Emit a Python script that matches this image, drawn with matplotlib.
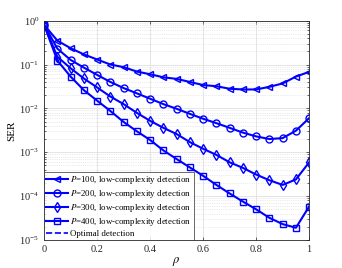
import numpy as np
import matplotlib.pyplot as plt
from matplotlib.ticker import LogLocator, NullFormatter

plt.rcParams['font.family'] = ['Liberation Serif', 'DejaVu Serif']
plt.rcParams['mathtext.fontset'] = 'stix'

rho = np.linspace(0, 1, 21)

ser_p100 = [0.8, 0.35, 0.235, 0.17, 0.13, 0.10, 0.087, 0.069, 0.06, 0.051, 0.047,
            0.040, 0.034, 0.032, 0.028, 0.027, 0.027, 0.031, 0.037, 0.053, 0.068]
ser_p200 = [0.8, 0.23, 0.127, 0.085, 0.058, 0.040, 0.029, 0.022, 0.0166, 0.0125, 0.0098,
            0.0075, 0.0058, 0.0046, 0.0036, 0.0028, 0.0023, 0.0020, 0.0021, 0.0031, 0.0060]
ser_p300 = [0.8, 0.15, 0.082, 0.048, 0.030, 0.0186, 0.0125, 0.0079, 0.0052, 0.0036, 0.0026,
            0.0017, 0.0012, 0.00087, 0.00059, 0.00044, 0.00031, 0.00023, 0.00018, 0.00024, 0.00059]
ser_p400 = [0.8, 0.123, 0.053, 0.026, 0.015, 0.0087, 0.0049, 0.0030, 0.0019, 0.0011, 0.0007,
            0.00045, 0.00029, 0.00018, 0.000115, 0.000075, 0.00005, 0.000032, 0.000023, 0.000019, 0.000058]

series = [
    (ser_p100, '<', '$\\mathit{P}$=100, low-complexity detection'),
    (ser_p200, 'o', '$\\mathit{P}$=200, low-complexity detection'),
    (ser_p300, 'd', '$\\mathit{P}$=300, low-complexity detection'),
    (ser_p400, 's', '$\\mathit{P}$=400, low-complexity detection'),
]

blue = (0, 0, 1)

fig = plt.figure(figsize=(3.42, 2.68), dpi=100)
ax = fig.add_axes([0.129, 0.1045, 0.775, 0.8185])

for vals, mk, lab in series:
    ax.plot(rho, vals, color=blue, lw=1.5, marker=mk, markersize=5,
            markerfacecolor='none', markeredgewidth=1.0, label=lab)
ax.plot([], [], color=blue, lw=1.2, ls='--', label='Optimal detection')

ax.set_yscale('log')
ax.set_xlim(0, 1)
ax.set_ylim(1e-5, 1)
ax.set_xticks(np.arange(0, 1.01, 0.2))
ax.set_xticklabels(['0', '0.2', '0.4', '0.6', '0.8', '1'])
ax.yaxis.set_major_locator(LogLocator(base=10, numticks=10))
ax.yaxis.set_minor_locator(LogLocator(base=10, subs=np.arange(2, 10), numticks=20))
ax.yaxis.set_minor_formatter(NullFormatter())

ax.grid(True, which='major', color='#e0e0e0', lw=0.6)
ax.grid(True, which='minor', axis='y', color='#d8d8d8', lw=0.5, ls=':')
ax.set_axisbelow(True)

ax.tick_params(which='both', direction='in', top=True, right=True,
               labelsize=7.5, length=2.5, width=0.5, colors='#262626')
ax.tick_params(which='minor', length=1.5)
for s in ax.spines.values():
    s.set_linewidth(0.6)
    s.set_color('#262626')

ax.set_xlabel('$\\rho$', fontsize=9, labelpad=1)
ax.set_ylabel('SER', fontsize=8, labelpad=2)

leg = ax.legend(loc='lower left', fontsize=6.4, frameon=True, fancybox=False,
                edgecolor='#262626', borderaxespad=0, handlelength=2.4,
                handletextpad=0.3, labelspacing=0.2, borderpad=0.25)
leg.get_frame().set_linewidth(0.6)

fig.savefig('out.png', dpi=100)
